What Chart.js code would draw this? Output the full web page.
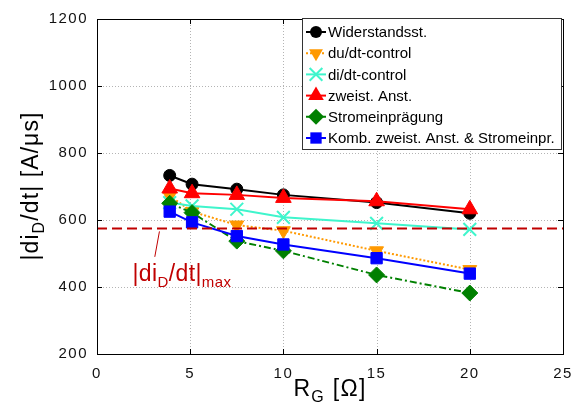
<!DOCTYPE html>
<html>
<head>
<meta charset="utf-8">
<script src="https://cdn.jsdelivr.net/npm/chart.js@4/dist/chart.umd.min.js"></script>
<style>
  html, body { margin: 0; padding: 0; background: #fff; }
  #wrap { width: 579px; height: 407px; }
</style>
</head>
<body>
<div id="wrap"><canvas id="chart"></canvas></div>
<script>
// gate resistance R_G [Ohm]
const rgValues = [3.9, 5.1, 7.5, 10, 15, 20];

// |di_D/dt| [A/us] per control method
const widerstand = [733, 707, 692, 675, 652, 620];
const duDtControl = [672, 625, 585, 568, 508, 452];
const diDtControl = [652, 642, 632, 608, 590, 572];
const zweistAnst = [694, 680, 675, 666, 656, 632];
const stromeinpraegung = [650, 622, 537, 508, 436, 382];
const kombiniert = [625, 593, 552, 527, 486, 440];

const seriesLabels = ['Widerstandsst.', 'du/dt-control', 'di/dt-control', 'zweist. Anst.', 'Stromeinprägung', 'Komb. zweist. Anst. & Stromeinpr.'];

const diDtMax = 575;
const xRange = [0, 25];
const xTicks = [0, 5, 10, 15, 20, 25];
const yTicks = [200, 400, 600, 800, 1000, 1200];

const FONT = '"Liberation Sans", Arial, sans-serif';
const MAXRED = '#c00000';

function pts(ys) {
    return rgValues.map((x, i) => ({ x: x, y: ys[i] }));
}

function series(label, ys, color, style, size, rot, dash, width, order) {
    return {
        label: label,
        data: pts(ys),
        borderColor: color,
        backgroundColor: color,
        pointBackgroundColor: color,
        pointBorderColor: color,
        pointStyle: style,
        pointRadius: size,
        pointRotation: rot,
        pointBorderWidth: style === 'crossRot' ? 2 : 1,
        borderWidth: width,
        borderDash: dash,
        order: order,
        tension: 0
    };
}

// own marker drawing for the legend
function marker(ctx, ds, x, y) {
    const r = ds.pointRadius;
    ctx.save();
    ctx.fillStyle = ds.pointBackgroundColor;
    ctx.strokeStyle = ds.pointBorderColor;
    ctx.lineWidth = ds.pointBorderWidth;
    ctx.setLineDash([]);
    ctx.beginPath();
    if (ds.pointStyle === 'circle') {
        ctx.arc(x, y, r, 0, Math.PI * 2);
        ctx.fill();
    } else if (ds.pointStyle === 'triangle') {
        const s = ds.pointRotation === 180 ? -1 : 1;
        ctx.moveTo(x, y - s * r);
        ctx.lineTo(x + r * 0.87, y + s * r * 0.5);
        ctx.lineTo(x - r * 0.87, y + s * r * 0.5);
        ctx.closePath();
        ctx.fill();
    } else if (ds.pointStyle === 'crossRot') {
        const d = r * 0.707;
        ctx.moveTo(x - d, y - d); ctx.lineTo(x + d, y + d);
        ctx.moveTo(x + d, y - d); ctx.lineTo(x - d, y + d);
        ctx.stroke();
    } else if (ds.pointStyle === 'rectRot') {
        ctx.moveTo(x, y - r); ctx.lineTo(x + r, y); ctx.lineTo(x, y + r); ctx.lineTo(x - r, y);
        ctx.closePath();
        ctx.fill();
    } else if (ds.pointStyle === 'rect') {
        const d = r * 0.707;
        ctx.fillRect(x - d, y - d, 2 * d, 2 * d);
    }
    ctx.restore();
}

// text with subscripts: parts = [[text, isSub], ...]
function richWidth(ctx, parts, size, subSize) {
    let w = 0;
    parts.forEach(p => {
        ctx.font = (p[1] ? subSize : size) + 'px ' + FONT;
        w += ctx.measureText(p[0]).width;
    });
    return w;
}
function drawRich(ctx, parts, x, y, size, subSize, subShift) {
    let cx = x;
    parts.forEach(p => {
        ctx.font = (p[1] ? subSize : size) + 'px ' + FONT;
        ctx.fillText(p[0], cx, p[1] ? y + subShift : y);
        cx += ctx.measureText(p[0]).width;
    });
}

const decor = {
    id: 'decor',
    beforeDraw(chart) {
        // matlab-like wide tick labels
        chart.ctx.letterSpacing = '1.5px';
    },
    beforeDatasetsDraw(chart) {
        const ctx = chart.ctx;
        const a = chart.chartArea;
        const xs = chart.scales.x, ys = chart.scales.y;
        ctx.letterSpacing = '0px';
        ctx.save();
        ctx.strokeStyle = '#b4b4b4';
        ctx.lineWidth = 1;
        ctx.setLineDash([1, 2]);
        ctx.beginPath();
        xTicks.slice(1, -1).forEach(t => {
            const px = Math.round(xs.getPixelForValue(t)) + 0.5;
            ctx.moveTo(px, a.top); ctx.lineTo(px, a.bottom);
        });
        yTicks.slice(1, -1).forEach(t => {
            const py = Math.round(ys.getPixelForValue(t)) + 0.5;
            ctx.moveTo(a.left, py); ctx.lineTo(a.right, py);
        });
        ctx.stroke();
        ctx.restore();
    },
    afterDatasetsDraw(chart) {
        const ctx = chart.ctx;
        const a = chart.chartArea;
        const xs = chart.scales.x, ys = chart.scales.y;
        ctx.save();
        ctx.letterSpacing = '0px';
        // box + inward ticks
        ctx.strokeStyle = '#000';
        ctx.lineWidth = 1;
        ctx.setLineDash([]);
        ctx.strokeRect(Math.round(a.left) + 0.5, Math.round(a.top) + 0.5, Math.round(a.right - a.left), Math.round(a.bottom - a.top));
        ctx.beginPath();
        xTicks.forEach(t => {
            const px = Math.round(xs.getPixelForValue(t)) + 0.5;
            ctx.moveTo(px, a.bottom); ctx.lineTo(px, a.bottom - 5);
            ctx.moveTo(px, a.top); ctx.lineTo(px, a.top + 5);
        });
        yTicks.forEach(t => {
            const py = Math.round(ys.getPixelForValue(t)) + 0.5;
            ctx.moveTo(a.left, py); ctx.lineTo(a.left + 5, py);
            ctx.moveTo(a.right, py); ctx.lineTo(a.right - 5, py);
        });
        ctx.stroke();

        // annotation for the limit
        ctx.strokeStyle = MAXRED;
        ctx.lineWidth = 1;
        ctx.beginPath();
        ctx.moveTo(xs.getPixelForValue(3.35), ys.getPixelForValue(566));
        ctx.lineTo(xs.getPixelForValue(3.1), ys.getPixelForValue(490));
        ctx.stroke();
        ctx.fillStyle = MAXRED;
        ctx.textBaseline = 'alphabetic';
        ctx.textAlign = 'left';
        ctx.letterSpacing = '0.4px';
        drawRich(ctx, [['|di', false], ['D', true], ['/dt|', false], ['max', true]],
            xs.getPixelForValue(1.9), ys.getPixelForValue(418), 23, 15, 6);

        // axis titles
        ctx.fillStyle = '#000';
        ctx.letterSpacing = '1.3px';
        const xt = [['R', false], ['G', true], [' [Ω]', false]];
        const xw = richWidth(ctx, xt, 23, 16);
        drawRich(ctx, xt, (a.left + a.right) / 2 - xw / 2, 396, 23, 16, 6);

        ctx.letterSpacing = '1.1px';
        const yt = [['|di', false], ['D', true], ['/dt| [A/μs]', false]];
        const yw = richWidth(ctx, yt, 23, 16);
        ctx.translate(38, 186);
        ctx.rotate(-Math.PI / 2);
        drawRich(ctx, yt, -yw / 2, 0, 23, 16, 6);
        ctx.restore();

        // legend box
        ctx.save();
        ctx.letterSpacing = '0px';
        const lx = 302, ly = 18, lw = 259, lh = 131;
        ctx.fillStyle = '#fff';
        ctx.fillRect(lx, ly, lw, lh);
        ctx.strokeStyle = '#333';
        ctx.lineWidth = 1;
        ctx.strokeRect(lx + 0.5, ly + 0.5, lw, lh);
        ctx.font = '15px ' + FONT;
        ctx.textBaseline = 'middle';
        ctx.textAlign = 'left';
        for (let i = 0; i < seriesLabels.length; i++) {
            const ds = chart.data.datasets[i];
            const ry = 32 + i * 21.2;
            ctx.strokeStyle = ds.borderColor;
            ctx.lineWidth = ds.borderWidth;
            ctx.setLineDash(ds.borderDash || []);
            ctx.beginPath();
            ctx.moveTo(306, ry); ctx.lineTo(326, ry);
            ctx.stroke();
            marker(ctx, ds, 316, ry);
            ctx.fillStyle = '#000';
            ctx.fillText(seriesLabels[i], 328, ry + 1);
        }
        ctx.restore();
    }
};

new Chart(document.getElementById('chart'), {
    type: 'line',
    data: {
        datasets: [
            series(seriesLabels[0], widerstand, '#000000', 'circle', 6, 0, [], 2, 6),
            series(seriesLabels[1], duDtControl, '#ff9900', 'triangle', 8, 180, [2, 2], 2, 5),
            series(seriesLabels[2], diDtControl, '#3ff5cc', 'crossRot', 9, 0, [], 2, 4),
            series(seriesLabels[3], zweistAnst, '#ff0000', 'triangle', 9, 0, [], 2, 3),
            series(seriesLabels[4], stromeinpraegung, '#008000', 'rectRot', 8, 0, [7, 3, 2, 3], 2, 2),
            series(seriesLabels[5], kombiniert, '#0000ff', 'rect', 8, 0, [], 2, 1),
            {
                label: 'max',
                data: [{ x: xRange[0], y: diDtMax }, { x: xRange[1], y: diDtMax }],
                borderColor: MAXRED,
                borderWidth: 2,
                borderDash: [10, 5],
                pointRadius: 0,
                order: 0
            }
        ]
    },
    options: {
        animation: false,
        responsive: true,
        maintainAspectRatio: false,
        devicePixelRatio: 1,
        layout: { padding: { left: 0, top: 19, right: 16, bottom: 0 } },
        plugins: {
            legend: { display: false },
            tooltip: { enabled: false }
        },
        scales: {
            x: {
                type: 'linear',
                min: xRange[0],
                max: xRange[1],
                afterFit: s => { s.height = 53; },
                afterBuildTicks: s => { s.ticks = xTicks.map(v => ({ value: v })); },
                border: { display: false },
                grid: { display: false },
                ticks: { color: '#111', font: { family: FONT, size: 15 }, padding: 3, callback: v => String(v) }
            },
            y: {
                min: yTicks[0],
                max: yTicks[yTicks.length - 1],
                afterFit: s => { s.width = 97; },
                afterBuildTicks: s => { s.ticks = yTicks.map(v => ({ value: v })); },
                border: { display: false },
                grid: { display: false },
                ticks: { color: '#111', font: { family: FONT, size: 15 }, padding: 1, callback: v => String(v) }
            }
        }
    },
    plugins: [decor]
});
</script>
</body>
</html>
